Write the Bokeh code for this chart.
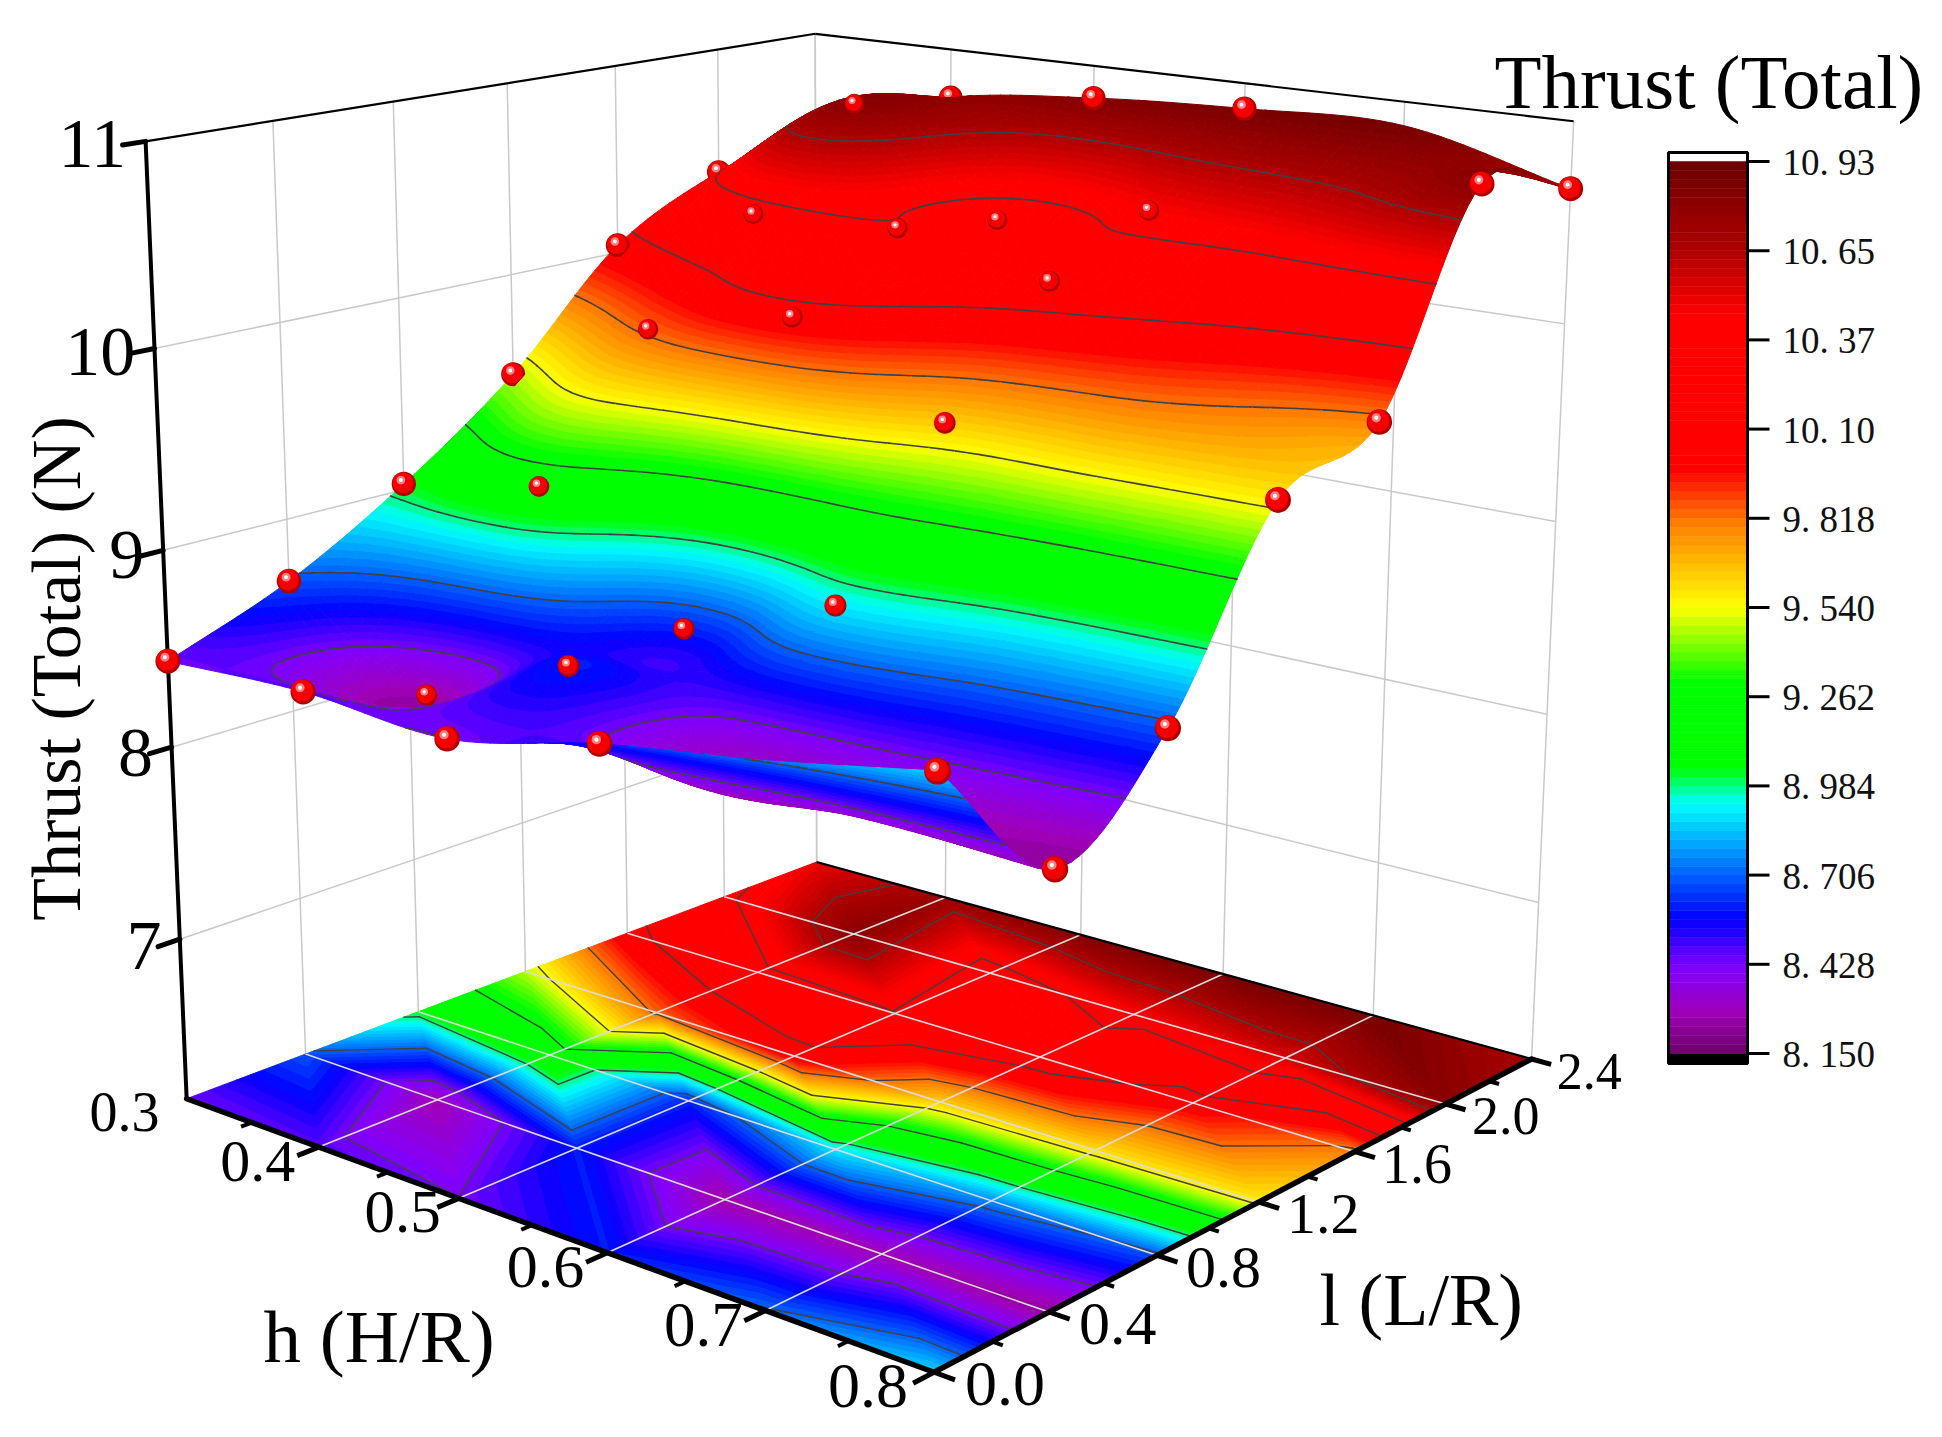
import math
import numpy as np
from bokeh.plotting import figure
from bokeh.models import Range1d
from bokeh.core.properties import value
from bokeh.embed import file_html
from bokeh.resources import INLINE

# ---------- data ----------
H_VALUES = [0.3, 0.4, 0.5, 0.6, 0.7, 0.8]
L_VALUES = [0.0, 0.4, 0.8, 1.2, 1.6, 2.0, 2.4]
THRUST_H03 = [8.44, 8.68, 9.03, 9.47, 10.04, 10.33, 10.50]
THRUST_H04 = [8.47, 8.27, 9.17, 9.84, 10.32, 10.80, 10.74]
THRUST_H05 = [8.43, 8.60, 8.61, 10.03, 10.36, 10.29, 10.83]
THRUST_H06 = [8.60, 8.25, 8.90, 9.64, 10.21, 10.45, 10.87]
THRUST_H07 = [8.72, 8.27, 8.76, 9.60, 10.02, 10.55, 10.88]
THRUST_H08 = [8.87, 8.23, 8.68, 9.57, 9.79, 10.80, 10.67]
NO_MARKER = [(0, 6), (3, 1), (4, 0), (4, 1), (4, 2), (4, 3), (4, 4), (4, 5), (4, 6)]
Z_TICKS = [7, 8, 9, 10, 11]
H_TICKS = [0.4, 0.5, 0.6, 0.7, 0.8]
L_TICKS = [0.0, 0.4, 0.8, 1.2, 1.6, 2.0, 2.4]
BAR_TICKS = [10.93, 10.652, 10.374, 10.096, 9.818, 9.54, 9.262, 8.984, 8.706, 8.428, 8.15]
BAR_LABELS = ["10. 93", "10. 65", "10. 37", "10. 10", "9. 818", "9. 540", "9. 262", "8. 984", "8. 706", "8. 428", "8. 150"]
CONTOUR_LEVELS = [8.428, 8.706, 8.984, 9.262, 9.54, 9.818, 10.096, 10.374, 10.652]
COLOR_VALUES = [8.15, 8.28, 8.42, 8.57, 8.75, 8.93, 9.04, 9.31, 9.54, 9.80, 9.97, 10.45, 10.65, 10.78, 10.93]
COLOR_HEXES = ["#6c0068", "#a000b8", "#8000ff", "#0000ff", "#0080ff", "#00ffff", "#00ff00",
               "#00ff00", "#ffff00", "#ff8000", "#ff0000", "#ff0000", "#b00000", "#900000", "#6a0000"]

Zg = np.array([THRUST_H03, THRUST_H04, THRUST_H05, THRUST_H06, THRUST_H07, THRUST_H08], float)
Hs = np.array(H_VALUES)
Ls = np.array(L_VALUES)

# ---------- colour ----------
VMIN, VMAX, NLEV = 8.15, 10.93, 100
DV = (VMAX - VMIN) / NLEV
_rgb = np.array([[int(c[i:i + 2], 16) for i in (1, 3, 5)] for c in COLOR_HEXES], float)
def level_color(k):
    v = VMIN + (k + .5) * DV
    return "#%02x%02x%02x" % tuple(int(round(np.interp(v, COLOR_VALUES, _rgb[:, c]))) for c in range(3))
PALETTE = [level_color(k) for k in range(NLEV)]

# ---------- camera (box corners on the page) ----------
Z0 = 6.15
_corners = [((0, 0, 0), (185, 1097)), ((1, 0, 0), (935, 1372)), ((1, 1, 0), (1530, 1059)), ((0, 1, 0), (817, 862)),
            ((0, 0, 1), (145, 142)), ((1, 1, 1), (1573, 120)), ((0, 1, 1), (815, 33))]
_A, _b = [], []
for (X, Y, Z), (u, v) in _corners:
    _A.append([X, Y, Z, 1, 0, 0, 0, 0, -u * X, -u * Y, -u * Z]); _b.append(u)
    _A.append([0, 0, 0, 0, X, Y, Z, 1, -v * X, -v * Y, -v * Z]); _b.append(v)
_m = np.linalg.lstsq(np.array(_A, float), np.array(_b, float), rcond=None)[0]
CAM = np.append(_m, 1).reshape(3, 4)

def project(h, l, z):
    h, l, z = np.broadcast_arrays(np.asarray(h, float), np.asarray(l, float), np.asarray(z, float))
    X = (h - .3) / .5; Y = l / 2.4; T = (z - Z0) / (11 - Z0)
    w = CAM[2, 0] * X + CAM[2, 1] * Y + CAM[2, 2] * T + CAM[2, 3]
    return ((CAM[0, 0] * X + CAM[0, 1] * Y + CAM[0, 2] * T + CAM[0, 3]) / w,
            (CAM[1, 0] * X + CAM[1, 1] * Y + CAM[1, 2] * T + CAM[1, 3]) / w, w)

# ---------- interpolation of the grid for drawing ----------
def upsample_cr(a, ns, axis):
    a = np.moveaxis(a, axis, 0)
    pad = np.concatenate([[2 * a[0] - a[1]], a, [2 * a[-1] - a[-2]]], axis=0)
    n = a.shape[0] - 1
    out = []
    for i in range(n):
        for s in range(ns):
            t = s / ns
            w = (-.5 * t + t * t - .5 * t ** 3, 1 - 2.5 * t * t + 1.5 * t ** 3, .5 * t + 2 * t * t - 1.5 * t ** 3, -.5 * t * t + .5 * t ** 3)
            out.append(w[0] * pad[i] + w[1] * pad[i + 1] + w[2] * pad[i + 2] + w[3] * pad[i + 3])
    out.append(a[-1])
    return np.moveaxis(np.array(out), 0, axis)

def upsample_lin(a, ns, axis):
    a = np.moveaxis(a, axis, 0)
    n = a.shape[0] - 1
    out = []
    for i in range(n):
        for s in range(ns):
            t = s / ns
            out.append((1 - t) * a[i] + t * a[i + 1])
    out.append(a[-1])
    return np.moveaxis(np.array(out), 0, axis)

def clip_poly(poly, lim, above):
    res = []
    n = len(poly)
    for i in range(n):
        a, b = poly[i], poly[(i + 1) % n]
        ina = a[2] >= lim if above else a[2] <= lim
        inb = b[2] >= lim if above else b[2] <= lim
        if ina:
            res.append(a)
        if ina != inb:
            t = (lim - a[2]) / (b[2] - a[2])
            res.append((a[0] + t * (b[0] - a[0]), a[1] + t * (b[1] - a[1]), lim))
    return res

def lev_index(v):
    return min(NLEV - 1, max(0, int(math.floor((v - VMIN) / DV))))

def add_cell(q, px, py, pc, sx0, sy0, sx1, sy1):
    vals = [c[2] for c in q]
    vlo, vhi = min(vals), max(vals)
    k0, k1 = lev_index(vlo), lev_index(vhi)
    if k0 == k1:
        px.append([c[0] for c in q]); py.append([c[1] for c in q]); pc.append(PALETTE[k0])
    else:
        for k in range(k0, k1 + 1):
            poly = q
            if k > k0:
                poly = clip_poly(poly, VMIN + k * DV, True)
            if k < k1 and len(poly) > 2:
                poly = clip_poly(poly, VMIN + (k + 1) * DV, False)
            if len(poly) > 2:
                px.append([c[0] for c in poly]); py.append([c[1] for c in poly]); pc.append(PALETTE[k])
    for lev in CONTOUR_LEVELS:
        if vlo < lev < vhi:
            cross = []
            for i in range(len(q)):
                a, b = q[i], q[(i + 1) % len(q)]
                if (a[2] - lev) * (b[2] - lev) < 0:
                    t = (lev - a[2]) / (b[2] - a[2])
                    cross.append((a[0] + t * (b[0] - a[0]), a[1] + t * (b[1] - a[1])))
            for m in range(0, len(cross) - 1, 2):
                sx0.append(cross[m][0]); sy0.append(cross[m][1]); sx1.append(cross[m + 1][0]); sy1.append(cross[m + 1][1])

# ---------- figure ----------
p = figure(width=1926, height=1421, x_range=Range1d(0, 1926), y_range=Range1d(1421, 0),
           output_backend="svg", toolbar_location=None, min_border=0, tools="")
p.axis.visible = False
p.grid.visible = False
p.outline_line_color = None
p.background_fill_color = "white"
SERIF = value("Liberation Serif")

def line3(a, b, color, width, cap="butt"):
    xa, ya, _ = project(*a)
    xb, yb, _ = project(*b)
    p.segment([float(xa)], [float(ya)], [float(xb)], [float(yb)], line_color=color, line_width=width, line_cap=cap)

GRID = "#c9c9c9"
H0, H1, L0, L1, Z1 = H_VALUES[0], H_VALUES[-1], L_VALUES[0], L_VALUES[-1], Z_TICKS[-1]
# walls
for l in L_VALUES:
    line3((H0, l, Z0), (H0, l, Z1), GRID, 1.5)
for h in H_VALUES:
    line3((h, L1, Z0), (h, L1, Z1), GRID, 1.5)
for z in Z_TICKS[:-1]:
    line3((H0, L0, z), (H0, L1, z), GRID, 1.5)
    line3((H0, L1, z), (H1, L1, z), GRID, 1.5)
line3((H0, L0, Z1), (H0, L1, Z1), "black", 2.2)
line3((H0, L1, Z1), (H1, L1, Z1), "black", 2.2)

# floor: linear on the triangles of the data grid
px, py, pc, a0, b0, a1, b1 = [], [], [], [], [], [], []
for i in range(len(Hs) - 1):
    for j in range(len(Ls) - 1):
        v00, v10, v01, v11 = (Hs[i], Ls[j], Zg[i, j]), (Hs[i + 1], Ls[j], Zg[i + 1, j]), (Hs[i], Ls[j + 1], Zg[i, j + 1]), (Hs[i + 1], Ls[j + 1], Zg[i + 1, j + 1])
        add_cell([v00, v10, v01], px, py, pc, a0, b0, a1, b1)
        add_cell([v10, v11, v01], px, py, pc, a0, b0, a1, b1)
fpx, fpy = [], []
for hh, ll in zip(px, py):
    xx, yy, _ = project(np.array(hh), np.array(ll), Z0)
    fpx.append(xx.tolist()); fpy.append(yy.tolist())
p.patches(fpx, fpy, fill_color=pc, line_color=pc, line_width=1.0)
xa, ya, _ = project(np.array(a0), np.array(b0), Z0)
xb, yb, _ = project(np.array(a1), np.array(b1), Z0)
p.segment(xa, ya, xb, yb, line_color="#404040", line_width=1.4, line_cap="round")

for l in L_VALUES[1:-1]:
    line3((H0, l, Z0), (H1, l, Z0), "#dcdcdc", 1.6)
for h in H_VALUES[1:-1]:
    line3((h, L0, Z0), (h, L1, Z0), "#dcdcdc", 1.6)

# axes
line3((H0, L0, Z0), (H0, L0, Z1), "black", 4, "round")
line3((H0, L0, Z0), (H1, L0, Z0), "black", 5.5, "round")
line3((H1, L0, Z0), (H1, L1, Z0), "black", 5.5, "round")
line3((H0, L1, Z0), (H1, L1, Z0), "black", 2.2)
for z in Z_TICKS:
    line3((H0, L0, z), (H0, -0.07, z), "black", 5, "round")
    x, y, _ = project(H0, -0.075, z)
    p.text([float(x) + 5], [float(y) - 1], text=[str(z)], text_font=SERIF, text_font_size="70px",
           text_align="right", text_baseline="middle", text_color="black")
for h in np.arange(0.35, 0.8, 0.1):
    line3((h, L0, Z0), (h, -0.035, Z0), "black", 4)
H_LABEL_DX = [-61, -56, -62, -62, -66]
for i, h in enumerate(H_TICKS):
    line3((h, L0, Z0), (h, -0.07, Z0), "black", 5)
    x, y, _ = project(h, L0, Z0)
    p.text([float(x) + H_LABEL_DX[i]], [float(y) + 14], text=["%.1f" % h], text_font=SERIF,
           text_font_size="%dpx" % (60 + i), text_align="center", text_baseline="middle", text_color="black")
for l in np.arange(0.2, 2.4, 0.4):
    line3((H1, l, Z0), (H1 + 0.006, l, Z0), "black", 4)
for i, l in enumerate(L_TICKS):
    line3((H1, l, Z0), (H1 + 0.012, l, Z0), "black", 5)
    x, y, _ = project(H1, l, Z0)
    p.text([float(x) + 71 - 2.2 * i], [float(y) + 12], text=["%.1f" % l], text_font=SERIF,
           text_font_size="%dpx" % (64 - 2 * i), text_align="center", text_baseline="middle", text_color="black")
p.text([124], [1111], text=["0.3"], text_font=SERIF, text_font_size="56px", text_align="center",
       text_baseline="middle", text_color="black")

# surface, back to front
NS = 14
sz = upsample_cr(upsample_cr(Zg, NS, 0), NS, 1)
sh = upsample_lin(Hs, NS, 0)
sl = upsample_lin(Ls, NS, 0)
SH, SL = np.meshgrid(sh, sl, indexing="ij")
sx, sy, _ = project(SH, SL, sz)
markers = {}
for i in range(len(H_VALUES)):
    for j in range(len(L_VALUES)):
        if (i, j) in NO_MARKER:
            continue
        interior = 0 < i < len(H_VALUES) - 1 and 0 < j < len(L_VALUES) - 1
        markers.setdefault(min(i * NS + 1, (len(H_VALUES) - 1) * NS - 1), []).append((i, j, interior))
_, _, w_front = project(H1, L0, 9.0)

def draw_markers(strip):
    for i, j, interior in markers.get(strip, []):
        x, y, w = project(Hs[i], Ls[j], Zg[i, j])
        x, y = float(x), float(y)
        ratio = float(w_front / w)
        d = 25 * ratio if interior else 27 * ratio ** 0.5
        p.scatter([x], [y], size=d, marker="circle", fill_color="#b00000", line_color=None)
        p.scatter([x - d * .04], [y - d * .05], size=d * .86, marker="circle", fill_color="#f40000", line_color=None)
        p.scatter([x - d * .12], [y - d * .16], size=d * .36, marker="circle", fill_color="#ff8080", line_color=None)
        p.scatter([x - d * .12], [y - d * .16], size=d * .16, marker="circle", fill_color="#ffffff", line_color=None)

for i in range(len(sh) - 1):
    # far part of the strip first, the part next to l = 0 afterwards
    for jr in (range(len(sl) - 2, NS - 1, -1), range(NS - 1, -1, -1)):
        px, py, pc, a0, b0, a1, b1 = [], [], [], [], [], [], []
        for j in jr:
            q = [(sx[i + di, j + dj], sy[i + di, j + dj], sz[i + di, j + dj]) for di, dj in ((0, 0), (1, 0), (1, 1), (0, 1))]
            add_cell(q, px, py, pc, a0, b0, a1, b1)
        p.patches(px, py, fill_color=pc, line_color=pc, line_width=1.0)
        if a0:
            p.segment(a0, b0, a1, b1, line_color="#404040", line_width=1.6, line_cap="round")
    draw_markers(i)

# colour bar
BAR_X0, BAR_X1, BAR_Y_LO, BAR_Y_HI = 1668, 1747, 1053, 161
def bar_y(v):
    return BAR_Y_LO + (v - VMIN) / (VMAX - VMIN) * (BAR_Y_HI - BAR_Y_LO)
lev_edges = [VMIN + k * DV for k in range(NLEV + 1)]
p.quad(left=BAR_X0, right=BAR_X1, top=[bar_y(v) for v in lev_edges[1:]], bottom=[bar_y(v) for v in lev_edges[:-1]],
       fill_color=PALETTE, line_color=PALETTE, line_width=0.5)
p.quad(left=[BAR_X0], right=[BAR_X1], top=[BAR_Y_LO], bottom=[BAR_Y_LO + 10], fill_color="black", line_color=None)
p.quad(left=[BAR_X0], right=[BAR_X1], top=[BAR_Y_HI - 9], bottom=[BAR_Y_LO + 10], fill_color=None, line_color="black", line_width=3)
for v, t in zip(BAR_TICKS, BAR_LABELS):
    y = bar_y(v)
    p.segment([BAR_X1], [y], [1769], [y], line_color="black", line_width=3)
    p.text([1782], [y + 1], text=[t], text_font=SERIF, text_font_size="37px", text_align="left",
           text_baseline="middle", text_color="#111111")

# titles
p.text([1494], [81], text=["Thrust (Total)"], text_font=SERIF, text_font_size="77px", text_align="left",
       text_baseline="middle", text_color="black")
p.text([56], [668], text=["Thrust (Total) (N)"], text_font=SERIF, text_font_size="70px", angle=math.pi / 2,
       text_align="center", text_baseline="middle", text_color="black")
p.text([263], [1336], text=["h (H/R)"], text_font=SERIF, text_font_size="75px", text_align="left",
       text_baseline="middle", text_color="black")
p.text([1319], [1299], text=["l (L/R)"], text_font=SERIF, text_font_size="74px", text_align="left",
       text_baseline="middle", text_color="black")

open("out.html", "w").write(file_html(p, INLINE))
